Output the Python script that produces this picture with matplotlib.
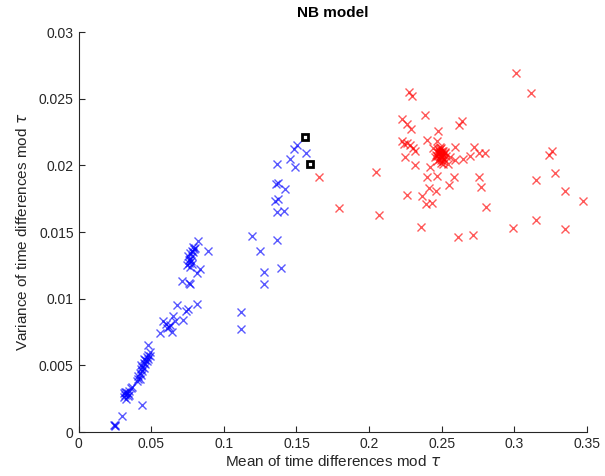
import matplotlib
matplotlib.use("Agg")
import matplotlib.pyplot as plt
import numpy as np

plt.rcParams['font.family'] = ['Liberation Sans', 'DejaVu Sans']

# Blue series (mean, variance)
blue_x = [0.0243, 0.0248, 0.0250, 0.0302, 0.0439,
          0.031, 0.032, 0.033, 0.034, 0.035, 0.036, 0.033, 0.032, 0.034, 0.037, 0.035, 0.031,
          0.040, 0.041, 0.041, 0.042, 0.042, 0.043, 0.043, 0.044, 0.044, 0.045, 0.045, 0.046,
          0.046, 0.047, 0.047, 0.048, 0.048, 0.049, 0.049, 0.048, 0.045, 0.043,
          0.0561, 0.0584, 0.0607, 0.0630, 0.0653, 0.0676, 0.0641, 0.0664, 0.0717, 0.0740,
          0.0756, 0.0813, 0.0600, 0.0620,
          0.0710, 0.0757, 0.0768,
          0.075, 0.076, 0.077, 0.078, 0.077, 0.078, 0.079, 0.0795, 0.080, 0.076, 0.0755,
          0.0765, 0.0775, 0.079, 0.078,
          0.0820, 0.0894, 0.0836, 0.0813,
          0.1116, 0.1116, 0.1192, 0.1249, 0.1277, 0.1277, 0.1368, 0.1394, 0.1364, 0.1359,
          0.1375, 0.1421, 0.1352, 0.1375, 0.1364, 0.1414, 0.1456, 0.1492, 0.1483, 0.1506,
          0.1566]
blue_y = [0.0005, 0.00045, 0.0005, 0.0012, 0.0020,
          0.0026, 0.0028, 0.0030, 0.0029, 0.0031, 0.0033, 0.0025, 0.0030, 0.0027, 0.0034, 0.0028, 0.0029,
          0.0038, 0.0040, 0.0042, 0.0040, 0.0044, 0.0043, 0.0047, 0.0046, 0.0049, 0.0048, 0.0052, 0.0051,
          0.0054, 0.0053, 0.0056, 0.0055, 0.0058, 0.0057, 0.0060, 0.0065, 0.0055, 0.0050,
          0.0074, 0.0083, 0.0078, 0.0080, 0.0087, 0.0095, 0.0075, 0.0083, 0.0084, 0.0091,
          0.0092, 0.0096, 0.0081, 0.0079,
          0.0113, 0.0112, 0.0111,
          0.0125, 0.0127, 0.0130, 0.0132, 0.0134, 0.0136, 0.0135, 0.0137, 0.0138, 0.0129, 0.0132,
          0.0124, 0.0128, 0.0139, 0.0126,
          0.0143, 0.0136, 0.0122, 0.0119,
          0.0090, 0.0077, 0.0147, 0.0136, 0.0120, 0.0111, 0.0144, 0.0123, 0.0201, 0.0186,
          0.0187, 0.0182, 0.0173, 0.0175, 0.0165, 0.0166, 0.0205, 0.0199, 0.0212, 0.0215,
          0.0209]

# Red series (mean, variance)
red_x = [0.1653, 0.1790, 0.2045, 0.2066, 0.3011, 0.3112, 0.2277, 0.2295, 0.2383, 0.2229,
         0.2259, 0.2288, 0.2477, 0.2619, 0.2637,
         0.2225, 0.2240, 0.2260, 0.2280, 0.2300, 0.2316, 0.2396, 0.2465, 0.2247, 0.2316,
         0.2480, 0.2485, 0.2490, 0.2495, 0.2500, 0.2505, 0.2488, 0.2478, 0.2502, 0.2492,
         0.2510, 0.2470, 0.2515, 0.2465, 0.2498, 0.2508, 0.2475, 0.2494, 0.2520, 0.2468,
         0.2506, 0.2483, 0.2525, 0.2460, 0.2512, 0.2490, 0.2497, 0.2482, 0.2530, 0.2455,
         0.2591, 0.2722, 0.2694, 0.2648, 0.2758, 0.2797, 0.2594, 0.2419, 0.2469, 0.2396,
         0.2584, 0.2552, 0.2412, 0.2460, 0.2364, 0.2392, 0.2431, 0.2263, 0.2756, 0.2768,
         0.2805, 0.2360, 0.2614, 0.2715, 0.2988, 0.3149, 0.3346, 0.3147, 0.3277, 0.3348,
         0.3474, 0.3236, 0.3259, 0.2540, 0.2440, 0.2555]
red_y = [0.0191, 0.0168, 0.0195, 0.0163, 0.0269, 0.0254, 0.0255, 0.0252, 0.0238, 0.0235,
         0.0231, 0.0227, 0.0226, 0.0230, 0.0233,
         0.0218, 0.0216, 0.0217, 0.0215, 0.0213, 0.0211, 0.0219, 0.0218, 0.0206, 0.0200,
         0.0209, 0.0207, 0.0210, 0.0208, 0.0209, 0.0206, 0.0212, 0.0205, 0.0211, 0.0204,
         0.0208, 0.0207, 0.0205, 0.0210, 0.0213, 0.0211, 0.0212, 0.0206, 0.0209, 0.0203,
         0.0203, 0.0209, 0.0210, 0.0208, 0.0201, 0.0214, 0.0202, 0.0211, 0.0207, 0.0206,
         0.0214, 0.0214, 0.0207, 0.0205, 0.0209, 0.0209, 0.0204, 0.0199, 0.0192, 0.0191,
         0.0191, 0.0185, 0.0183, 0.0181, 0.0177, 0.0171, 0.0172, 0.0178, 0.0191, 0.0184,
         0.0169, 0.0154, 0.0146, 0.0148, 0.0153, 0.0159, 0.0152, 0.0189, 0.0194, 0.0181,
         0.0173, 0.0208, 0.0211, 0.0201, 0.0213, 0.0206]

# Highlighted squares
sq_x = [0.1561, 0.1593]
sq_y = [0.0221, 0.0201]

xticks = [0, 0.05, 0.1, 0.15, 0.2, 0.25, 0.3, 0.35]
xticklabels = ['0', '0.05', '0.1', '0.15', '0.2', '0.25', '0.3', '0.35']
yticks = [0, 0.005, 0.01, 0.015, 0.02, 0.025, 0.03]
yticklabels = ['0', '0.005', '0.01', '0.015', '0.02', '0.025', '0.03']

fig = plt.figure(figsize=(6.05, 4.76), dpi=100)
ax = fig.add_axes([0.1298, 0.0924, 0.8405, 0.8403])

ax.plot(blue_x, blue_y, linestyle='none', marker='x', color=(0, 0, 1), alpha=0.65,
        markersize=5.5, markeredgewidth=1.0)
ax.plot(red_x, red_y, linestyle='none', marker='x', color=(1, 0, 0), alpha=0.65,
        markersize=5.5, markeredgewidth=1.0)
ax.plot(sq_x, sq_y, linestyle='none', marker='s', markerfacecolor='white',
        markeredgecolor='black', markersize=5, markeredgewidth=2)

ax.set_xlim(0, 0.35)
ax.set_ylim(0, 0.03)
ax.set_xticks(xticks)
ax.set_xticklabels(xticklabels)
ax.set_yticks(yticks)
ax.set_yticklabels(yticklabels)
ax.tick_params(direction='in', length=4, labelsize=10, colors='#262626')
ax.spines['top'].set_visible(False)
ax.spines['right'].set_visible(False)
for s in ['left', 'bottom']:
    ax.spines[s].set_color('#262626')

ax.set_xlabel(r'Mean of time differences mod $\tau$', fontsize=11, color='#262626', labelpad=2)
ax.set_ylabel(r'Variance of time differences mod $\tau$', fontsize=11, color='#262626', labelpad=6)
ax.set_title('NB model', fontsize=11, fontweight='bold', pad=11)

fig.savefig('out.png', dpi=100)
